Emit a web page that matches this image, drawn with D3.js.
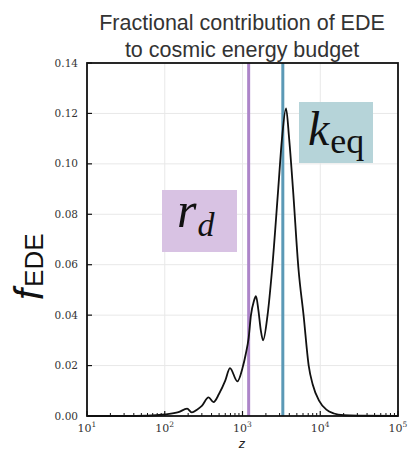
<!DOCTYPE html>
<html>
<head>
<meta charset="utf-8">
<script src="https://cdn.jsdelivr.net/npm/d3@7"></script>
<style>
  html, body { margin: 0; padding: 0; background: #fff; }
  svg { display: block; }
</style>
</head>
<body>
<svg id="chart" width="409" height="451"></svg>
<script>
// Redshift samples and EDE energy fraction f_EDE(z)
const redshifts = [10, 30, 60, 100, 150, 194, 224, 260, 300, 366, 424, 500, 600, 690, 860,
  1000, 1100, 1200, 1285, 1400, 1490, 1600, 1720, 1840, 2100, 2400, 2880, 3220, 3630,
  3980, 4460, 5260, 6100, 7100, 8000, 9600, 12000, 15000, 20000, 30000, 100000];
const fEDE = [0.0000, 0.0000, 0.0001, 0.0006, 0.0015, 0.0029, 0.0014, 0.0025, 0.0040, 0.0074, 0.0055, 0.0088, 0.0140, 0.0190, 0.0137,
  0.0190, 0.0245, 0.0310, 0.0400, 0.0455, 0.0475, 0.0420, 0.0340, 0.0300, 0.0400, 0.0580, 0.0900, 0.1100, 0.1220,
  0.1100, 0.0900, 0.0580, 0.0400, 0.0200, 0.0125, 0.0062, 0.0025, 0.0010, 0.0003, 0.0001, 0.0000];

// Characteristic epochs
const markerNames = ["rd", "keq"];
const markerZ = [1200, 3300];
const markerColors = ["#ad85c9", "#5b99b6"];

const xTickExps = [1, 2, 3, 4, 5];
const yTicks = [0.00, 0.02, 0.04, 0.06, 0.08, 0.10, 0.12, 0.14];

const svg = d3.select("#chart");
const pLeft = 87, pRight = 398, pTop = 63, pBottom = 416;

const x = d3.scaleLog().domain([10, 1e5]).range([pLeft, pRight]);
const y = d3.scaleLinear().domain([0, 0.14]).range([pBottom, pTop]);

// grid
const grid = svg.append("g");
grid.selectAll(".gx").data(xTickExps.slice(1, -1)).join("line")
  .attr("x1", d => x(Math.pow(10, d))).attr("x2", d => x(Math.pow(10, d)))
  .attr("y1", pTop).attr("y2", pBottom)
  .attr("stroke", "#e8e8e8").attr("stroke-width", 1);
grid.selectAll(".gy").data(yTicks.slice(1, -1)).join("line")
  .attr("x1", pLeft).attr("x2", pRight)
  .attr("y1", d => y(d)).attr("y2", d => y(d))
  .attr("stroke", "#e8e8e8").attr("stroke-width", 1);

// annotation boxes
const boxes = [
  { x0: 162, x1: 237, y0: 190, y1: 252, fill: "#d8c2e3" },
  { x0: 299, x1: 373, y0: 102, y1: 163, fill: "#b6d4d9" }
];
svg.selectAll(".box").data(boxes).join("rect")
  .attr("x", d => d.x0).attr("y", d => d.y0)
  .attr("width", d => d.x1 - d.x0).attr("height", d => d.y1 - d.y0)
  .attr("fill", d => d.fill);

// vertical markers
svg.selectAll(".marker").data(markerZ).join("line")
  .attr("x1", d => x(d)).attr("x2", d => x(d))
  .attr("y1", pTop).attr("y2", pBottom)
  .attr("stroke", (d, i) => markerColors[i]).attr("stroke-width", 3);

// curve
const pts = redshifts.map((z, i) => ({ z, f: fEDE[i] }));
svg.append("path").datum(pts)
  .attr("fill", "none").attr("stroke", "#111").attr("stroke-width", 1.8)
  .attr("stroke-linejoin", "round")
  .attr("d", d3.line().x(d => x(d.z)).y(d => y(d.f)).curve(d3.curveMonotoneX));

// axes (ticks pointing inward)
const xMinor = [];
for (let e = 1; e < 5; e++) for (let m = 2; m <= 9; m++) xMinor.push(m * Math.pow(10, e));
const axisX = svg.append("g");
axisX.selectAll(".mn").data(xMinor).join("line")
  .attr("x1", d => x(d)).attr("x2", d => x(d))
  .attr("y1", pBottom).attr("y2", pBottom - 3)
  .attr("stroke", "#111").attr("stroke-width", 1);
axisX.selectAll(".mj").data(xTickExps).join("line")
  .attr("x1", d => x(Math.pow(10, d))).attr("x2", d => x(Math.pow(10, d)))
  .attr("y1", pBottom).attr("y2", pBottom - 5)
  .attr("stroke", "#111").attr("stroke-width", 1.2);
const xl = axisX.selectAll(".xl").data(xTickExps).join("text")
  .attr("x", d => x(Math.pow(10, d)))
  .attr("y", 432)
  .attr("text-anchor", "middle")
  .attr("font-family", "DejaVu Serif, serif")
  .attr("font-size", 11).attr("fill", "#333");
xl.append("tspan").text("10");
xl.append("tspan").attr("dy", -5).attr("font-size", 7.5).text(d => d);

const axisY = svg.append("g");
axisY.selectAll(".yt").data(yTicks).join("line")
  .attr("x1", pLeft).attr("x2", pLeft + 5)
  .attr("y1", d => y(d)).attr("y2", d => y(d))
  .attr("stroke", "#111").attr("stroke-width", 1.2);
axisY.selectAll(".yl").data(yTicks).join("text")
  .attr("x", 78).attr("y", d => y(d) + 3.5)
  .attr("text-anchor", "end")
  .attr("font-family", "DejaVu Serif, serif")
  .attr("font-size", 10.5).attr("fill", "#333")
  .text(d => d.toFixed(2));

// frame
svg.append("rect").attr("x", pLeft).attr("y", pTop)
  .attr("width", pRight - pLeft).attr("height", pBottom - pTop)
  .attr("fill", "none").attr("stroke", "#111").attr("stroke-width", 1.8);

// box labels
const rd = svg.append("text").attr("x", 177).attr("y", 227)
  .attr("font-family", "Liberation Serif, serif").attr("font-style", "italic")
  .attr("font-size", 50).attr("fill", "#111");
rd.append("tspan").text("r");
rd.append("tspan").attr("dy", 9).attr("dx", 1).attr("font-size", 34).text("d");

const keq = svg.append("text").attr("x", 308).attr("y", 145)
  .attr("font-family", "Liberation Serif, serif")
  .attr("font-size", 48).attr("fill", "#111");
keq.append("tspan").attr("font-style", "italic").text("k");
keq.append("tspan").attr("dy", 8).attr("dx", 1).attr("font-size", 36).text("eq");

// title
svg.append("text").attr("x", 242).attr("y", 30).attr("text-anchor", "middle")
  .attr("font-family", "Liberation Sans, Arial, sans-serif")
  .attr("font-size", 21.5).attr("fill", "#333")
  .text("Fractional contribution of EDE");
svg.append("text").attr("x", 242).attr("y", 57).attr("text-anchor", "middle")
  .attr("font-family", "Liberation Sans, Arial, sans-serif")
  .attr("font-size", 21.5).attr("fill", "#333")
  .text("to cosmic energy budget");

// axis labels
svg.append("text").attr("x", 242).attr("y", 447.5).attr("text-anchor", "middle")
  .attr("font-family", "Liberation Sans, Arial, sans-serif").attr("font-style", "italic")
  .attr("font-size", 13).attr("fill", "#222").text("z");

const yl = svg.append("text").attr("transform", "translate(43,300) rotate(-90)")
  .attr("font-family", "Liberation Sans, Arial, sans-serif")
  .attr("fill", "#111");
yl.append("tspan").attr("font-size", 40).attr("font-style", "italic").text("f");
yl.append("tspan").attr("font-size", 26).attr("dx", 2).text("EDE");
</script>
</body>
</html>
